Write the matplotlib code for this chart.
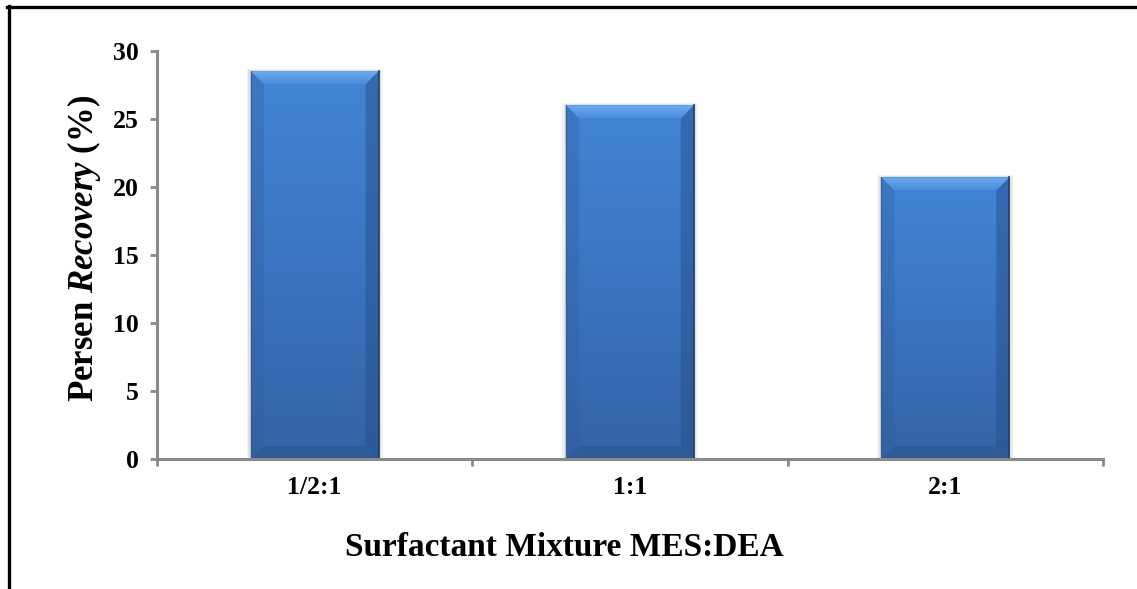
import matplotlib.pyplot as plt
import numpy as np
from matplotlib.lines import Line2D
from matplotlib.patches import Polygon, Rectangle
from matplotlib.colors import LinearSegmentedColormap

# data
ratios = ['1/2:1', '1:1', '2:1']
recovery = [28.5, 26.0, 20.7]
y_ticks = [0, 5, 10, 15, 20, 25, 30]

plt.rcParams['font.family'] = 'Liberation Serif'
plt.rcParams['font.weight'] = 'bold'
plt.rcParams['mathtext.fontset'] = 'custom'
plt.rcParams['mathtext.rm'] = 'Liberation Serif:bold'
plt.rcParams['mathtext.it'] = 'Liberation Serif:italic:bold'

fig = plt.figure(figsize=(11.37, 5.89), dpi=100)
ax = fig.add_axes([0.1381, 0.2202, 0.9701 - 0.1381, 0.9139 - 0.2202])

x = np.arange(len(ratios))
bars = ax.bar(x, recovery, width=0.405, color='#3d7acb', edgecolor='none', zorder=2)

ax.set_xlim(-0.5, 2.5)
ax.set_ylim(0, 30)
ax.set_yticks(y_ticks)
ax.set_xticks(x)
ax.set_xticklabels(ratios)
ax.set_xticks([-0.5, 0.5, 1.5, 2.5], minor=True)

grey = '#8a8a8a'
for s in ['top', 'right']:
    ax.spines[s].set_visible(False)
for s in ['left', 'bottom']:
    ax.spines[s].set_color(grey)
    ax.spines[s].set_linewidth(2.2)
ax.tick_params(axis='y', length=5, width=2, color=grey, pad=8, labelsize=18.5)
ax.tick_params(axis='x', which='major', length=0, pad=12, labelsize=18.5)
ax.tick_params(axis='x', which='minor', length=5, width=2, color=grey)

# pixel -> data scale for the bevel
px_x = 1.0 / (ax.get_window_extent().width / 3.0)
px_y = 1.0 / (ax.get_window_extent().height / 30.0)
bev = 13

body = LinearSegmentedColormap.from_list('body', ['#3463a5', '#3b75c1', '#4285d6'])
topc = LinearSegmentedColormap.from_list('top', ['#4a8ddc', '#6eaaf0'])
grad = np.linspace(0, 1, 256).reshape(-1, 1)
for b in bars:
    x0, w, h = b.get_x(), b.get_width(), b.get_height()
    dx, dy = bev * px_x, bev * px_y
    # soft shadow
    for k, a in [(4, 0.05), (2.5, 0.07), (1.2, 0.1)]:
        ax.add_patch(Rectangle((x0 - k * px_x, 0), w + 2 * k * px_x, h + 0.5 * k * px_y,
                               color='black', alpha=a, lw=0, zorder=1.9))
    im = ax.imshow(grad, cmap=body, extent=[x0, x0 + w, 0, h], origin='lower',
                   aspect='auto', zorder=2.1)
    im.set_clip_path(b)
    # top bevel
    top = Polygon([(x0, h), (x0 + w, h), (x0 + w - dx, h - dy), (x0 + dx, h - dy)],
                  closed=True, facecolor='none', lw=0, zorder=2.3)
    ax.add_patch(top)
    tim = ax.imshow(grad, cmap=topc, extent=[x0, x0 + w, h - dy, h], origin='lower',
                    aspect='auto', zorder=2.3)
    tim.set_clip_path(top)
    # left and right sides
    ax.add_patch(Polygon([(x0, 0), (x0, h), (x0 + dx, h - dy), (x0 + dx, dy)],
                         closed=True, color='#2f5fa0', alpha=0.35, lw=0, zorder=2.2))
    ax.add_patch(Polygon([(x0 + w, 0), (x0 + w, h), (x0 + w - dx, h - dy), (x0 + w - dx, dy)],
                         closed=True, color='#244d85', alpha=0.45, lw=0, zorder=2.2))
    # bottom bevel
    ax.add_patch(Polygon([(x0, 0), (x0 + w, 0), (x0 + w - dx, dy), (x0 + dx, dy)],
                         closed=True, color='#2b548e', alpha=0.5, lw=0, zorder=2.2))
    ax.plot([x0 + w, x0 + w], [0, h], color='#1f3d66', lw=1.2, zorder=2.4)
    ax.plot([x0, x0], [0, h], color='#2f5a95', lw=0.6, zorder=2.4)

ax.set_xlim(-0.5, 2.5)
ax.set_ylim(0, 30)

fig.text(564 / 1137, 1 - 547 / 589, 'Surfactant Mixture MES:DEA', fontsize=24,
         fontweight='bold', ha='center', va='center')
fig.text(84 / 1137, 1 - 248 / 589, r'Persen $\mathit{Recovery}$ (%)', fontsize=25,
         rotation=90, ha='center', va='center')

# frame lines around the picture
fig.add_artist(Line2D([7 / 1137, 1], [1 - 6.5 / 589, 1 - 6.5 / 589], color='black', lw=2.4))
fig.add_artist(Line2D([8.5 / 1137, 8.5 / 1137], [0, 1 - 5.5 / 589], color='black', lw=2.4))

fig.savefig('out.png', dpi=100)
